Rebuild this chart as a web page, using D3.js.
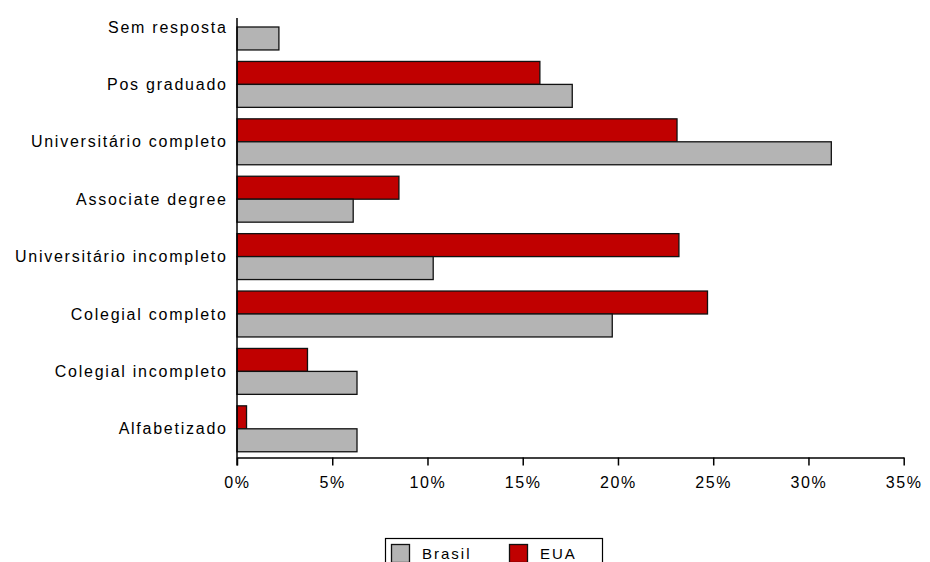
<!DOCTYPE html>
<html><head><meta charset="utf-8">
<script src="https://cdn.jsdelivr.net/npm/d3@7"></script>
<style>html,body{margin:0;padding:0;background:#fff;} svg{display:block;}</style>
</head><body>
<svg id="c" width="930" height="562"></svg>
<script>
const categories = ["Sem resposta","Pos graduado","Universitário completo","Associate degree","Universitário incompleto","Colegial completo","Colegial incompleto","Alfabetizado"];
const brasil = [2.2, 17.6, 31.2, 6.1, 10.3, 19.7, 6.3, 6.3];
const eua = [null, 15.9, 23.1, 8.5, 23.2, 24.7, 3.7, 0.5];
const seriesNames = ["EUA","Brasil"];
const seriesColors = ["#c00000","#b4b4b4"];
const xTicks = [0,5,10,15,20,25,30,35];
const legendOrder = ["Brasil","EUA"];

const svg = d3.select("#c");
const FONT = "'Liberation Sans', Arial, sans-serif";
const x = d3.scaleLinear().domain([0,35]).range([237, 903.7]);
const y = d3.scaleBand().domain(categories).range([-1.7, 457.5]).paddingInner(0.2).paddingOuter(0.1);
const ys = d3.scaleBand().domain(seriesNames).range([0, y.bandwidth()]);
const color = d3.scaleOrdinal().domain(seriesNames).range(seriesColors);

const data = [];
categories.forEach((c,i)=>{
  if (eua[i] != null) data.push({cat:c, s:"EUA", v:eua[i]});
  if (brasil[i] != null) data.push({cat:c, s:"Brasil", v:brasil[i]});
});

svg.append("g").selectAll("rect").data(data).join("rect")
  .attr("x", x(0))
  .attr("y", d => y(d.cat) + ys(d.s))
  .attr("width", d => x(d.v) - x(0))
  .attr("height", ys.bandwidth())
  .attr("fill", d => color(d.s))
  .attr("stroke", "#111")
  .attr("stroke-width", 1.3);

// x axis
const xa = svg.append("g").attr("transform","translate(0,457.5)")
  .call(d3.axisBottom(x).tickValues(xTicks).tickFormat(d => d + "%").tickSize(8).tickSizeOuter(0));
xa.select(".domain").attr("stroke","#000").attr("stroke-width",1.5);
xa.selectAll(".tick line").attr("stroke","#000").attr("stroke-width",1.5);
xa.selectAll(".tick text").attr("font-family",FONT).attr("font-size","16px").attr("fill","#000")
  .attr("letter-spacing","1.6px").attr("dy","1.2em");

// y axis line
svg.append("line").attr("x1",x(0)).attr("x2",x(0)).attr("y1",18).attr("y2",465.5)
  .attr("stroke","#000").attr("stroke-width",1.5);

// y labels
svg.append("g").selectAll("text").data(categories).join("text")
  .attr("x", 226 + 1.7)
  .attr("y", d => y(d) + y.bandwidth()/2)
  .attr("dy","0.35em")
  .attr("text-anchor","end")
  .attr("font-family",FONT).attr("font-size","16px").attr("letter-spacing","1.75px")
  .attr("fill","#000")
  .text(d => d);

// legend
const lg = svg.append("g");
lg.append("rect").attr("x",385.5).attr("y",538.5).attr("width",217).attr("height",40)
  .attr("fill","#fff").attr("stroke","#000").attr("stroke-width",1.2);
const lx = [391, 509];
legendOrder.forEach((n,i)=>{
  lg.append("rect").attr("x",lx[i]+0.5).attr("y",544.5).attr("width",18).attr("height",18)
    .attr("fill",color(n)).attr("stroke","#111").attr("stroke-width",1.3);
  lg.append("text").attr("x",lx[i]+31).attr("y",559).attr("font-family",FONT).attr("font-size","15px")
    .attr("letter-spacing","2px").attr("fill","#000").text(n);
});
</script>
</body></html>
